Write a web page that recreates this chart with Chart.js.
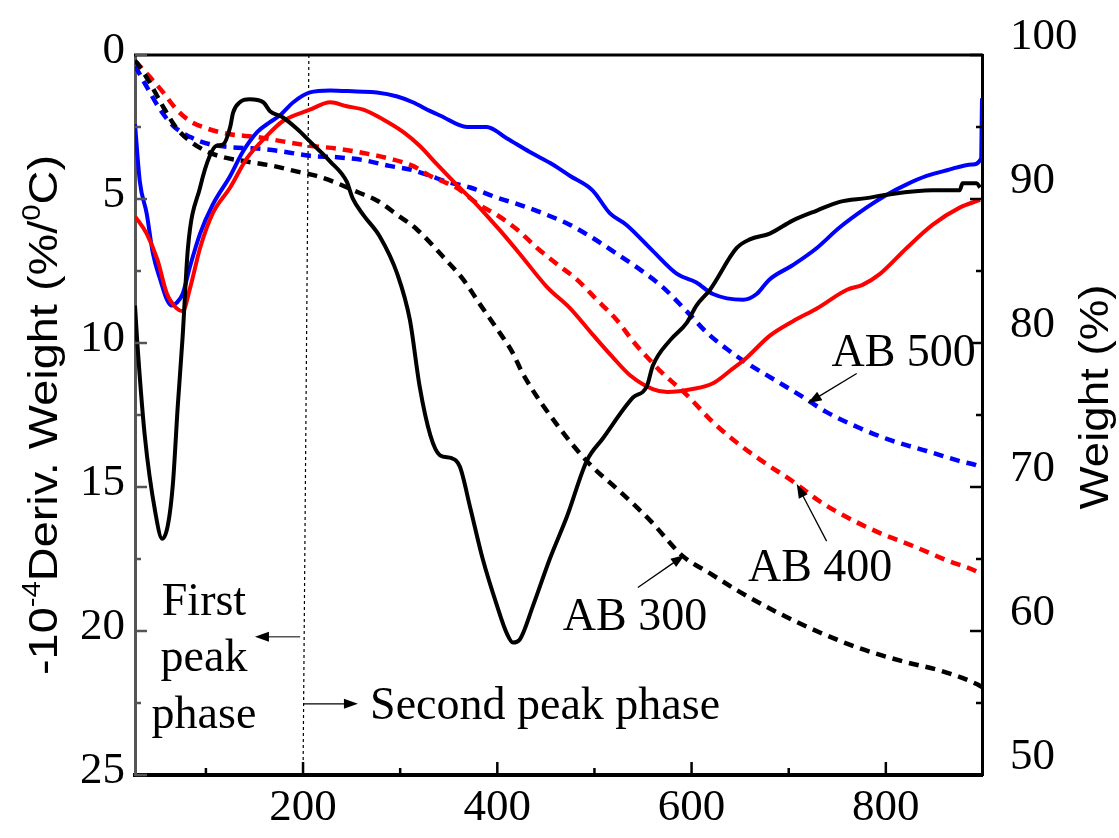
<!DOCTYPE html>
<html>
<head>
<meta charset="utf-8">
<script src="https://cdn.jsdelivr.net/npm/chart.js@4/dist/chart.umd.min.js"></script>
<style>
  html, body { margin: 0; padding: 0; background: #fff; }
</style>
</head>
<body>
<canvas id="grafico" width="1119" height="838"></canvas>
<script>
// --- EJES ---
const xTicks = [200, 400, 600, 800];
const xMinorTicks = [100, 300, 500, 700];
const derivTicks = [0, 5, 10, 15, 20, 25];
const derivMinorTicks = [2.5, 7.5, 12.5, 17.5, 22.5];
const weightTicks = [50, 60, 70, 80, 90, 100];
const weightMinorTicks = [55, 65, 75, 85, 95];

// --- DERIVADA (eje izquierdo, invertido) ---
const ab300DerivT = [27, 29, 37, 48, 55, 61, 66, 71, 76, 81.5, 94, 104, 111, 118, 125, 128, 135, 145, 159, 166, 179, 194, 207, 228, 245, 251, 262, 279, 297, 310, 320, 331, 341, 353, 361.5, 372, 385, 399.5, 410, 416, 423, 437, 454, 472, 492, 509, 539.5, 554, 560, 578, 595, 605, 619, 646.5, 660, 680.5, 704, 729, 752.5, 780, 801, 848, 876, 879, 893.5, 897];
const ab300Deriv  = [8.7, 9.8, 13.2, 15.9, 16.8, 16.3, 14.9, 12.2, 9.8, 6.7, 4.6, 3.5, 3.15, 3.1, 2.5, 2.0, 1.64, 1.54, 1.64, 1.95, 2.16, 2.57, 3.0, 3.7, 4.4, 4.97, 5.55, 6.3, 7.6, 9.2, 11.5, 13.2, 13.9, 14.0, 14.3, 15.7, 17.5, 19.1, 20.1, 20.4, 20.3, 19.1, 17.5, 16.0, 14.1, 13.3, 11.9, 11.5, 10.8, 9.9, 9.3, 8.7, 8.15, 6.7, 6.4, 6.2, 5.75, 5.4, 5.1, 4.97, 4.85, 4.7, 4.7, 4.45, 4.45, 4.6];

const ab400DerivT = [27, 39, 50, 60, 70, 76, 84, 94, 107, 125, 142, 163, 179, 207, 228, 245, 262, 282, 303, 320, 338, 358, 379, 403, 423, 451, 475, 498, 519, 536, 560, 575, 601, 622, 642, 657, 680, 704, 729, 760, 776, 794, 821.5, 848, 876, 897];
const ab400Deriv  = [5.6, 6.2, 7.1, 8.3, 8.8, 8.9, 8.05, 6.7, 5.5, 4.6, 3.6, 2.8, 2.3, 1.9, 1.64, 1.78, 1.9, 2.23, 2.67, 3.15, 3.8, 4.5, 5.2, 6.1, 6.9, 8.05, 8.8, 9.7, 10.5, 11.1, 11.6, 11.7, 11.6, 11.4, 10.9, 10.5, 9.76, 9.25, 8.8, 8.15, 7.98, 7.6, 6.7, 5.9, 5.3, 5.03];

const ab500DerivT = [27, 32, 39, 45.5, 53, 60, 65, 70, 76, 84, 94, 107, 125, 138, 153, 166, 176, 190, 207, 228, 255, 276, 297, 313, 331, 341, 369, 389, 410, 433, 457, 475, 498, 516, 533, 560, 585, 605, 622, 653, 667, 680, 704, 729, 752, 780, 801, 821, 842, 863, 889, 898, 899];
const ab500Deriv  = [2.4, 4.4, 5.5, 6.9, 7.8, 8.5, 8.7, 8.6, 8.3, 7.3, 6.2, 5.2, 4.2, 3.36, 2.67, 2.33, 2.1, 1.64, 1.3, 1.23, 1.27, 1.3, 1.44, 1.64, 1.95, 2.1, 2.5, 2.5, 2.9, 3.36, 3.8, 4.2, 4.7, 5.5, 5.9, 6.8, 7.6, 7.9, 8.3, 8.5, 8.3, 7.8, 7.3, 6.7, 6.0, 5.3, 4.85, 4.5, 4.2, 4.0, 3.8, 3.6, 1.5];

// --- PESO (eje derecho) ---
const ab300WeightT = [27, 29, 42, 56, 70, 84, 101, 118, 142, 169, 194, 214, 235, 255.5, 276, 297, 317, 344, 365, 382, 399.5, 416, 426, 464, 495, 526, 557, 591, 619, 650, 688, 732, 773, 817, 858.5, 894, 899];
const ab300Weight  = [99.6, 99.45, 98.1, 96.4, 94.9, 94.0, 93.3, 92.9, 92.6, 92.3, 91.9, 91.6, 91.1, 90.5, 89.9, 88.9, 87.9, 86.0, 84.4, 82.7, 81.0, 79.3, 77.9, 74.1, 71.6, 69.7, 67.7, 65.2, 64.0, 62.7, 61.3, 59.9, 58.8, 57.9, 57.2, 56.3, 56.1];

const ab400WeightT = [27, 29, 42, 56, 70, 84, 101, 125, 153, 179, 207, 235, 262, 289, 313, 331, 341, 358, 379, 399.5, 420, 441, 461, 482, 502.5, 523, 540, 560, 567, 595, 622, 650, 677, 704, 732, 760, 794, 828, 863, 897, 899];
const ab400Weight  = [99.6, 99.45, 98.5, 97.4, 96.2, 95.4, 94.9, 94.5, 94.3, 94.0, 93.7, 93.5, 93.2, 92.8, 92.3, 91.6, 91.3, 90.8, 89.7, 88.9, 87.9, 86.6, 85.5, 84.4, 83.0, 81.6, 80.1, 78.6, 78.1, 76.4, 74.5, 72.9, 71.6, 70.4, 69.0, 67.9, 66.8, 65.9, 64.9, 64.0, 63.9];

const ab500WeightT = [27, 29, 39, 53, 66, 84, 104, 125, 153, 179, 207, 235, 262, 289, 313, 331, 348, 372, 399.5, 423, 451, 475, 498, 523, 547, 570, 595, 616, 636, 657, 684, 711, 739, 773, 807, 842, 876, 897, 899];
const ab500Weight  = [99.2, 99.0, 97.8, 96.2, 95.1, 94.3, 93.8, 93.6, 93.5, 93.3, 93.0, 92.9, 92.7, 92.3, 92.0, 91.6, 91.2, 90.8, 90.1, 89.6, 88.9, 88.2, 87.3, 86.2, 85.1, 83.9, 82.2, 80.7, 79.6, 78.6, 77.5, 76.4, 75.2, 74.1, 73.2, 72.5, 71.8, 71.4, 71.3];

// linea punteada que separa las fases
const faseT = [206, 200];
const faseDeriv = [0, 25];

const puntos = (xs, ys) => xs.map((x, i) => ({ x: x, y: ys[i] }));

// --- ANOTACIONES (en unidades de datos) ---
const textos = [
  { t: 'First', x: 98, y: 19.45, align: 'center' },
  { t: 'peak', x: 98, y: 21.4, align: 'center' },
  { t: 'phase', x: 98, y: 23.36, align: 'center' },
  { t: 'Second peak phase', x: 269, y: 23.05, align: 'left' },
  { t: 'AB 500', x: 744, y: 10.8, align: 'left' },
  { t: 'AB 400', x: 658, y: 18.25, align: 'left' },
  { t: 'AB 300', x: 467.5, y: 19.97, align: 'left' }
];
const flechas = [
  { x1: 197, y1: 20.2, x2: 150.5, y2: 20.2, color: '#555' },
  { x1: 201, y1: 22.53, x2: 256.5, y2: 22.53, color: '#000' },
  { x1: 770, y1: 11.06, x2: 719.6, y2: 12.09, color: '#000' },
  { x1: 739, y1: 16.88, x2: 708.3, y2: 14.9, color: '#000' },
  { x1: 544.7, y1: 18.49, x2: 593, y2: 17.36, color: '#000' }
];

function dibujarFlecha(ctx, x1, y1, x2, y2, color) {
  const ang = Math.atan2(y2 - y1, x2 - x1);
  const largo = 14, ancho = 5;
  ctx.strokeStyle = color;
  ctx.fillStyle = '#000';
  ctx.lineWidth = 1.3;
  ctx.beginPath();
  ctx.moveTo(x1, y1);
  ctx.lineTo(x2 - Math.cos(ang) * largo * 0.8, y2 - Math.sin(ang) * largo * 0.8);
  ctx.stroke();
  ctx.beginPath();
  ctx.moveTo(x2, y2);
  ctx.lineTo(x2 - Math.cos(ang) * largo - Math.sin(ang) * ancho, y2 - Math.sin(ang) * largo + Math.cos(ang) * ancho);
  ctx.lineTo(x2 - Math.cos(ang) * largo + Math.sin(ang) * ancho, y2 - Math.sin(ang) * largo - Math.cos(ang) * ancho);
  ctx.closePath();
  ctx.fill();
}

// titulo vertical con superindices, estirado al largo deseado
function tituloVertical(ctx, partes, cx, cy, size, largoObjetivo) {
  ctx.save();
  ctx.translate(cx, cy);
  ctx.rotate(-Math.PI / 2);
  ctx.fillStyle = '#000';
  ctx.textBaseline = 'alphabetic';
  ctx.textAlign = 'left';
  let total = 0;
  partes.forEach(p => {
    ctx.font = (p.sup ? Math.round(size * 0.62) : size) + 'px "Liberation Sans", Arial, sans-serif';
    p.w = ctx.measureText(p.t).width;
    total += p.w;
  });
  const esc = largoObjetivo / total;
  ctx.scale(esc, 1);
  let u = -total / 2;
  partes.forEach(p => {
    ctx.font = (p.sup ? Math.round(size * 0.62) : size) + 'px "Liberation Sans", Arial, sans-serif';
    ctx.fillText(p.t, u, p.sup ? -size * 0.42 : 0);
    u += p.w;
  });
  ctx.restore();
}

const decoracion = {
  id: 'decoracion',
  afterDatasetsDraw(chart) {
    const { ctx, chartArea: a, scales } = chart;
    const sx = scales.x, sd = scales.yDeriv, sw = scales.yWeight;
    ctx.save();

    // borde superior
    ctx.strokeStyle = '#000';
    ctx.lineWidth = 3;
    ctx.beginPath();
    ctx.moveTo(a.left - 1, a.top);
    ctx.lineTo(a.right + 1, a.top);
    ctx.stroke();

    // marcas de ticks hacia adentro
    ctx.lineWidth = 2.5;
    const marca = (x1, y1, x2, y2, c) => {
      ctx.strokeStyle = c;
      ctx.beginPath(); ctx.moveTo(x1, y1); ctx.lineTo(x2, y2); ctx.stroke();
    };
    xTicks.forEach(v => { const p = sx.getPixelForValue(v); marca(p, a.bottom, p, a.bottom - 13, '#000'); });
    xMinorTicks.forEach(v => { const p = sx.getPixelForValue(v); marca(p, a.bottom, p, a.bottom - 7, '#000'); });
    derivTicks.forEach(v => { const p = sd.getPixelForValue(v); marca(a.left, p, a.left + 12, p, '#555'); });
    derivMinorTicks.forEach(v => { const p = sd.getPixelForValue(v); marca(a.left, p, a.left + 6, p, '#555'); });
    weightTicks.forEach(v => { const p = sw.getPixelForValue(v); marca(a.right, p, a.right - 12, p, '#000'); });
    weightMinorTicks.forEach(v => { const p = sw.getPixelForValue(v); marca(a.right, p, a.right - 6, p, '#000'); });

    // textos
    ctx.fillStyle = '#000';
    ctx.font = '46px "Liberation Serif", "Times New Roman", serif';
    ctx.textBaseline = 'alphabetic';
    textos.forEach(t => {
      ctx.textAlign = t.align;
      ctx.fillText(t.t, sx.getPixelForValue(t.x), sd.getPixelForValue(t.y));
    });

    // flechas
    flechas.forEach(f => {
      dibujarFlecha(ctx,
        sx.getPixelForValue(f.x1), sd.getPixelForValue(f.y1),
        sx.getPixelForValue(f.x2), sd.getPixelForValue(f.y2), f.color);
    });

    // titulos de ejes
    tituloVertical(ctx, [
      { t: '-10' }, { t: '-4', sup: true }, { t: 'Deriv. Weight (%/' }, { t: '0', sup: true }, { t: 'C)' }
    ], 57, (a.top + a.bottom) / 2, 40, 520);
    tituloVertical(ctx, [{ t: 'Weight (%)' }], 1108, 397, 40, 225);

    ctx.restore();
  }
};

const fuenteTicks = { family: '"Liberation Serif", "Times New Roman", serif', size: 45 };

new Chart(document.getElementById('grafico'), {
  type: 'line',
  data: {
    datasets: [
      { data: puntos(ab300DerivT, ab300Deriv), yAxisID: 'yDeriv', borderColor: '#000', borderWidth: 4 },
      { data: puntos(ab400DerivT, ab400Deriv), yAxisID: 'yDeriv', borderColor: '#ff0000', borderWidth: 4 },
      { data: puntos(ab500DerivT, ab500Deriv), yAxisID: 'yDeriv', borderColor: '#0000ff', borderWidth: 4 },
      { data: puntos(ab300WeightT, ab300Weight), yAxisID: 'yWeight', borderColor: '#000', borderWidth: 4.5, borderDash: [10, 7] },
      { data: puntos(ab400WeightT, ab400Weight), yAxisID: 'yWeight', borderColor: '#ff0000', borderWidth: 4.5, borderDash: [10, 7] },
      { data: puntos(ab500WeightT, ab500Weight), yAxisID: 'yWeight', borderColor: '#0000ff', borderWidth: 4.5, borderDash: [10, 7] },
      { data: puntos(faseT, faseDeriv), yAxisID: 'yDeriv', borderColor: '#000', borderWidth: 1.2, borderDash: [3, 3], tension: 0 }
    ]
  },
  options: {
    responsive: false,
    animation: false,
    devicePixelRatio: 1,
    layout: { padding: { top: 45, left: 0, right: 0, bottom: 0 } },
    elements: {
      point: { radius: 0 },
      line: { tension: 0.3, cubicInterpolationMode: 'monotone', fill: false }
    },
    plugins: {
      legend: { display: false },
      tooltip: { enabled: false }
    },
    scales: {
      x: {
        type: 'linear',
        position: 'bottom',
        min: 27,
        max: 899,
        afterBuildTicks: s => { s.ticks = xTicks.map(v => ({ value: v })); },
        afterFit: s => { s.height = 63; },
        grid: { display: false, drawTicks: false },
        border: { display: true, color: '#000', width: 4 },
        ticks: { font: fuenteTicks, color: '#000', padding: 6, maxRotation: 0, autoSkip: false }
      },
      yDeriv: {
        type: 'linear',
        position: 'left',
        reverse: true,
        min: 0,
        max: 25,
        afterBuildTicks: s => { s.ticks = derivTicks.map(v => ({ value: v })); },
        afterFit: s => { s.width = 135; },
        grid: { display: false, drawTicks: false },
        border: { display: true, color: '#555', width: 3 },
        ticks: { font: fuenteTicks, color: '#000', padding: 10, labelOffset: -4 }
      },
      yWeight: {
        type: 'linear',
        position: 'right',
        min: 50,
        max: 100,
        afterBuildTicks: s => { s.ticks = weightTicks.map(v => ({ value: v })); },
        afterFit: s => { s.width = 137; },
        grid: { display: false, drawTicks: false },
        border: { display: true, color: '#000', width: 3 },
        ticks: { font: fuenteTicks, color: '#000', padding: 28, labelOffset: -18 }
      }
    }
  },
  plugins: [decoracion]
});
</script>
</body>
</html>
